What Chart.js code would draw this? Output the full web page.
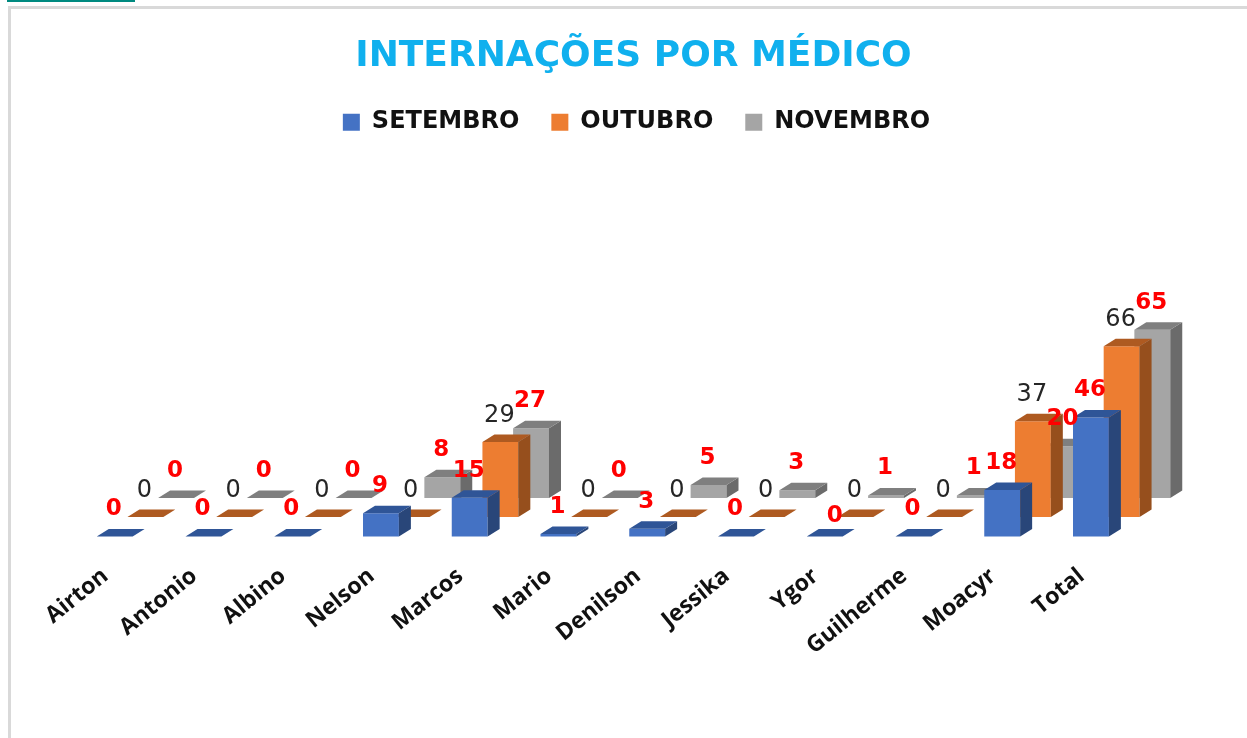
<!DOCTYPE html>
<html><head><meta charset="utf-8">
<style>
html,body{margin:0;padding:0;background:#fff;width:1247px;height:738px;overflow:hidden}
#wrap{position:absolute;left:0;top:0;width:1247px;height:738px}
#teal{position:absolute;left:7px;top:0;width:128px;height:1.5px;background:#008a80}
#frameT{position:absolute;left:8px;top:6px;right:0;height:3px;background:#d9d9d9}
#frameL{position:absolute;left:8px;top:6px;bottom:0;width:3px;background:#d9d9d9}
canvas{position:absolute;left:0;top:0}
</style>
<script src="https://cdn.jsdelivr.net/npm/chart.js@4"></script>
</head><body><div id="wrap">
<canvas id="c" width="1247" height="738"></canvas>
<div id="teal"></div><div id="frameT"></div><div id="frameL"></div>
</div>
<script>
const categories=["Airton","Antonio","Albino","Nelson","Marcos","Mario","Denilson","Jessika","Ygor","Guilherme","Moacyr","Total"];
const setembro=[0,0,0,9,15,1,3,0,0,0,18,46];
const outubro=[0,0,0,0,29,0,0,0,0,0,37,66];
const novembro=[0,0,0,8,27,0,5,3,1,1,20,65];

const UNIT=2.59, AREA=392.6, SHIFT_O=19.5, SHIFT_G=38.5;
const DX=12, DY=7.5;
const faces={0:{top:"#2F5597",side:"#294679"},1:{top:"#AE5A21",side:"#964F1D"},2:{top:"#7F7F7F",side:"#6B6B6B"}};
const labelStyle={
 0:{font:"bold 23px 'DejaVu Sans'",color:"#FF0000",lift:27},
 1:{font:"24px 'DejaVu Sans'",color:"#262626",lift:26},
 2:{font:"bold 23px 'DejaVu Sans'",color:"#FF0000",lift:27}
};
const labelNudge={"0:8":[11,7]};
const depth3d={
 id:"depth3d",
 afterLayout(chart){chart.legend.left+=3;chart.legend.right+=3;},
 afterDatasetDraw(chart,args){
  const ctx=chart.ctx, f=faces[args.index];
  ctx.save();
  args.meta.data.forEach(b=>{
   const l=b.x-b.width/2, r=b.x+b.width/2, t=b.y, base=b.base;
   ctx.fillStyle=f.side;
   ctx.beginPath();ctx.moveTo(r,t);ctx.lineTo(r+DX,t-DY);ctx.lineTo(r+DX,base-DY);ctx.lineTo(r,base);ctx.closePath();ctx.fill();
   ctx.fillStyle=f.top;
   ctx.beginPath();ctx.moveTo(l,t);ctx.lineTo(l+DX,t-DY);ctx.lineTo(r+DX,t-DY);ctx.lineTo(r,t);ctx.closePath();ctx.fill();
  });
  ctx.restore();
 },
 afterDatasetsDraw(chart){
  const ctx=chart.ctx;
  ctx.save();ctx.textAlign="center";ctx.textBaseline="middle";
  chart.data.datasets.forEach((ds,i)=>{
   const s=labelStyle[i];ctx.font=s.font;ctx.fillStyle=s.color;
   chart.getDatasetMeta(i).data.forEach((b,j)=>{
    const n=labelNudge[i+":"+j]||[0,0];
    ctx.fillText(String(ds.data[j]),b.x-1+n[0],b.y-s.lift+n[1]);
   });
  });
  ctx.restore();
 }
};
new Chart(document.getElementById("c"),{
 type:"bar",
 data:{labels:categories,datasets:[
  {label:"SETEMBRO",data:setembro,backgroundColor:"#4472C4",yAxisID:"yS",order:1,clip:false},
  {label:"OUTUBRO",data:outubro,backgroundColor:"#ED7D31",yAxisID:"yO",order:2,clip:false},
  {label:"NOVEMBRO",data:novembro,backgroundColor:"#A5A5A5",yAxisID:"yN",order:3,clip:false}
 ]},
 plugins:[depth3d],
 options:{
  responsive:false,animation:false,
  barPercentage:1.17,categoryPercentage:1.037,
  layout:{padding:{left:101,right:81,top:0,bottom:0}},
  plugins:{
   tooltip:{enabled:false},
   title:{display:true,text:"INTERNAÇÕES POR MÉDICO",color:"#10B0EE",font:{family:"'DejaVu Sans'",size:36,weight:"bold"},padding:{top:35,bottom:0}},
   legend:{display:true,position:"top",labels:{color:"#111",boxWidth:17,boxHeight:17,padding:32,font:{family:"'DejaVu Sans'",size:24,weight:"bold"}}}
  },
  scales:{
   x:{
    grid:{display:false},border:{display:false},
    afterFit(s){s.height=201.5;s.paddingLeft=0;s.paddingRight=0;},
    ticks:{autoSkip:false,minRotation:39,maxRotation:39,labelOffset:-40,padding:18,color:"#111",font:{family:"'Open Sans'",size:23,weight:"bold"}}
   },
   yS:{display:false,min:0,max:AREA/UNIT},
   yO:{display:false,min:-SHIFT_O/UNIT,max:(AREA-SHIFT_O)/UNIT},
   yN:{display:false,min:-SHIFT_G/UNIT,max:(AREA-SHIFT_G)/UNIT}
  }
 }
});
</script></body></html>
